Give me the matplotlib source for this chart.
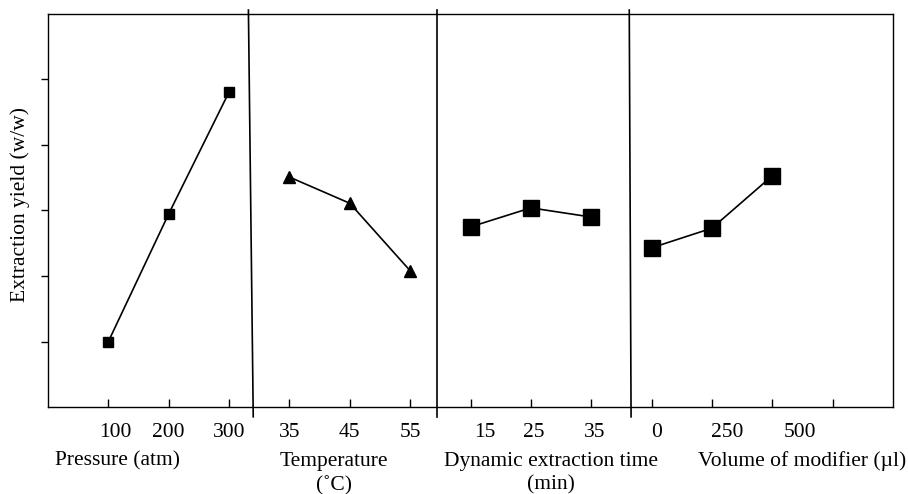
import matplotlib
matplotlib.use("Agg")
import matplotlib.pyplot as plt
import matplotlib.transforms as mtransforms

plt.rcParams['font.family'] = ['Liberation Serif', 'DejaVu Serif']

# --- data ---
pressure = [100, 200, 300]
pressure_yield = [1.00, 2.95, 4.81]

temperature = [35, 45, 55]
temperature_yield = [3.51, 3.11, 2.08]

time_min = [15, 25, 35]
time_yield = [2.75, 3.04, 2.90]

modifier_ul = [0, 250, 500]
modifier_yield = [2.43, 2.73, 3.53]

group_titles = ["Pressure (atm)", "Temperature\n(\u02daC)",
                "Dynamic extraction time\n(min)", "Volume of modifier (\u00b5l)"]

# each group occupies consecutive tick slots on a shared x axis
groups = [
    (pressure, pressure_yield, 0, 's', 7),
    (temperature, temperature_yield, 3, '^', 8),
    (time_min, time_yield, 6, 's', 11),
    (modifier_ul, modifier_yield, 9, 's', 11),
]

FS = 15.5

fig = plt.figure(figsize=(9.08, 4.94), dpi=100)
ax = fig.add_axes([0.0529, 0.1761, 0.9306, 0.7956])

for xs, ys, start, marker, ms in groups:
    slots = [start + i for i in range(len(xs))]
    ax.plot(slots, ys, color='black', lw=1.2, marker=marker, ms=ms,
            markerfacecolor='black', markeredgecolor='black')

ax.set_xlim(-1, 13)
ax.set_ylim(0, 6)
ax.set_xticks(range(13))
ax.set_xticklabels([])
ax.set_yticks([1, 2, 3, 4, 5])
ax.set_yticklabels([])
ax.tick_params(axis='x', direction='in', length=6, width=1)
ax.tick_params(axis='y', direction='out', length=5, width=1)
for sp in ax.spines.values():
    sp.set_linewidth(1.0)

fig.text(20 / 908, 1 - 205 / 494, "Extraction yield (w/w)", rotation=90,
         ha='center', va='center', fontsize=FS)

# separators between the groups (extend slightly past the frame)
ax.plot([2.32, 2.40], [6.06, -0.15], color='black', lw=1.2, clip_on=False)
ax.plot([5.44, 5.44], [6.06, -0.15], color='black', lw=1.2, clip_on=False)
ax.plot([8.63, 8.66], [6.06, -0.15], color='black', lw=1.2, clip_on=False)

# tick labels and group titles
trans = mtransforms.blended_transform_factory(ax.transData, fig.transFigure)
label_pos = [0.12, 1.0, 2.0, 3.0, 4.0, 5.0, 6.23, 7.04, 8.05, 9.09, 10.25, 11.46]
tick_text = [str(v) for v in pressure + temperature + time_min + modifier_ul]
for x, t in zip(label_pos, tick_text):
    ax.text(x, 0.1255, t, transform=trans, ha='center', va='center', fontsize=FS)

title_pos = [0.15, 3.74, 7.33, 11.49]
for x, t in zip(title_pos, group_titles):
    ax.text(x, 0.086, t, transform=trans, ha='center', va='top', fontsize=FS,
            linespacing=1.35)

fig.savefig("out.png", dpi=100)
